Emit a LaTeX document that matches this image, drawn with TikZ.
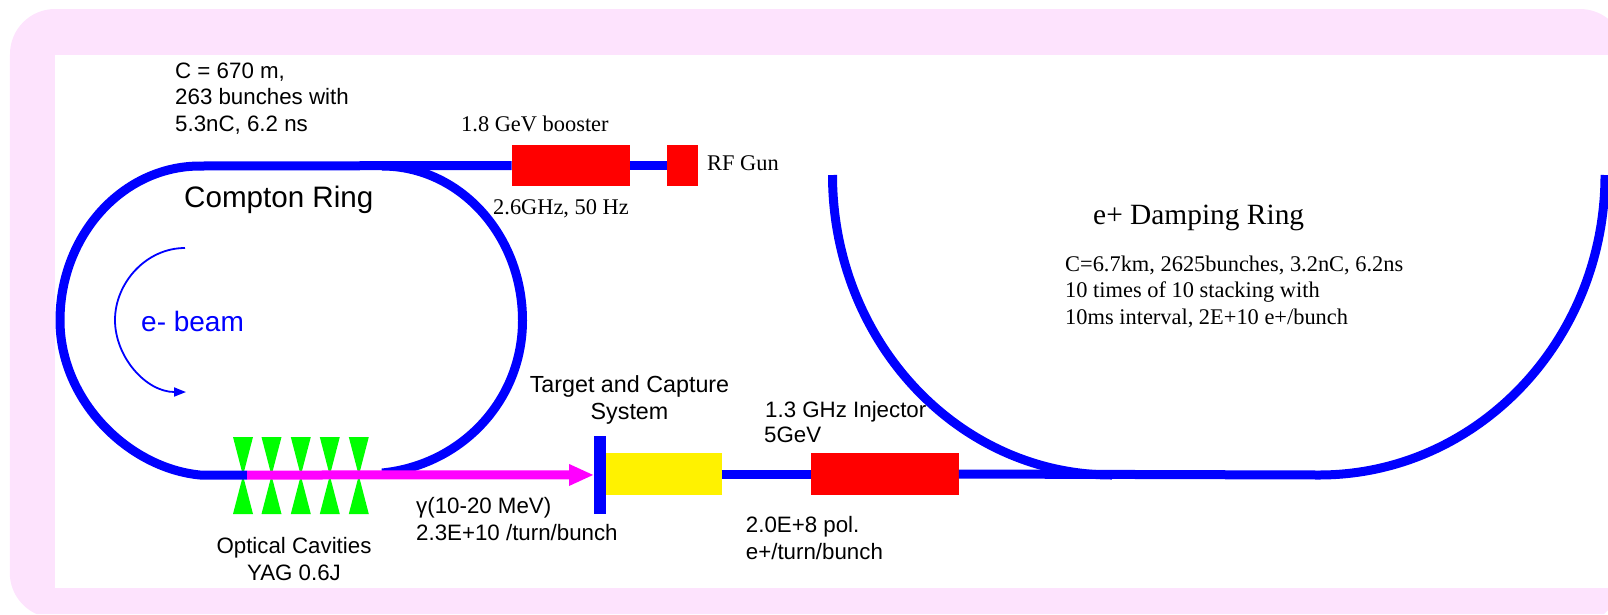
\documentclass[tikz,border=0pt]{standalone}
\usepackage{fontspec}
\setmainfont{Liberation Serif}
\setsansfont{Liberation Sans}
\usetikzlibrary{arrows.meta}
\definecolor{pinkbg}{HTML}{FDE3FD}
\definecolor{beamblue}{HTML}{0000FF}
\definecolor{magbeam}{HTML}{FF00FF}
\definecolor{cavgreen}{HTML}{00FF00}
\tikzset{
  sanslabel/.style={anchor=base west,inner sep=0pt,font=\fontsize{22.3}{22.3}\selectfont\sffamily,text=black},
  seriflabel/.style={anchor=base west,inner sep=0pt,font=\fontsize{22.4}{22.4}\selectfont\rmfamily,text=black},
  beamline/.style={draw=beamblue,line width=9pt,line join=round},
  redbox/.style={fill=red,inner sep=0pt,outer sep=0pt,anchor=north west},
  yellowbox/.style={fill=yellow,inner sep=0pt,outer sep=0pt,anchor=north west},
  bluebar/.style={fill=beamblue,inner sep=0pt,outer sep=0pt,anchor=north west},
  cavity/.style={fill=cavgreen,draw=none},
}
\begin{document}
\begin{tikzpicture}[x=1pt,y=-1pt]
\useasboundingbox (0,0) rectangle (1608,614);
% frame
\fill[pinkbg] (10,54) arc[start angle=180,end angle=270,radius=45] -- (1580,9) arc[start angle=270,end angle=308.5,radius=45] -- (1608,610) -- (1604,614) -- (36.5,614) arc[start angle=114,end angle=180,radius=45] -- cycle;
\fill[white] (55,55) rectangle (1608,588);
% cavities
\foreach \cx in {243,271.5,300.8,329.8,358.8}{
  \fill[cavity] (\cx-10,437) -- (\cx+10,437) -- (\cx,475.5) -- cycle;
  \fill[cavity] (\cx-10,514) -- (\cx+10,514) -- (\cx,475.5) -- cycle;
}
% named points
\coordinate (ringTopL) at (200,166);
\coordinate (ringTopR) at (382,166);
\coordinate (gammaStart) at (247,475);
\coordinate (drR) at (1319,475);
\coordinate (drEndL) at (832.5,175);
\coordinate (ebStart) at (185,248);
\coordinate (ebEnd) at (186,392);
% boxes
\node[redbox,minimum width=118.5pt,minimum height=41pt] (booster) at (511.5,145) {};
\node[redbox,minimum width=31pt,minimum height=41pt] (gun) at (666.7,145) {};
\node[bluebar,minimum width=12pt,minimum height=78.5pt] (target) at (594,435.7) {};
\node[yellowbox,minimum width=115.6pt,minimum height=42pt] (capture) at (606,453) {};
\node[redbox,minimum width=147.4pt,minimum height=42pt] (injector) at (811.4,453) {};
% compton ring
\draw[beamline] (ringTopL) arc[start angle=270,end angle=180,x radius=140,y radius=154.5]
  .. controls (60,400) and (128,468) .. (200,475) -- (gammaStart);
\draw[beamline] (ringTopR) arc[start angle=270,end angle=360,x radius=140.5,y radius=154.5]
  .. controls (522.5,400) and (462,465) .. (382,473);
\draw[beamline] (ringTopL) -- (booster.west);
\draw[beamline] (booster.east) -- (gun.west);
% gamma beam
\draw[draw=magbeam,line width=9pt,-{Triangle[length=25pt,width=20pt,fill=magbeam]}] (gammaStart) -- (target.west);
% linac line
\draw[beamline] (capture.east) -- (injector.west);
\draw[beamline] (injector.east) -- (drR);
% damping ring
\draw[beamline] (drEndL) arc[start angle=180,end angle=90,x radius=279.5,y radius=300];
\draw[beamline] (drR) arc[start angle=90,end angle=0,x radius=286,y radius=300];
% e- beam arrow
\draw[draw=beamblue,line width=1.8pt,-{Triangle[length=12pt,width=9pt]}] (ebStart) .. controls (146,248) and (115,283) .. (115,320) .. controls (115,357) and (146,392) .. (ebEnd);
% labels
\node[sanslabel] (l1) at (175,78) {C = 670 m,};
\node[sanslabel] (l2) at (175,104) {263 bunches with};
\node[sanslabel] (l3) at (175,131) {5.3nC, 6.2 ns};
\node[sanslabel,font=\fontsize{29.6}{30}\selectfont\sffamily] (compton) at (184,207) {Compton Ring};
\node[sanslabel,font=\fontsize{28}{28}\selectfont\sffamily,text=beamblue] (ebeam) at (141,331) {e- beam};
\node[seriflabel] (boostert) at (461,131) {1.8 GeV booster};
\node[seriflabel] (gunt) at (707,170) {RF Gun};
\node[seriflabel] (freq) at (493,214) {2.6GHz, 50 Hz};
\node[sanslabel,anchor=base] (opt1) at (294,553) {Optical Cavities};
\node[sanslabel,anchor=base] (opt2) at (294,580) {YAG 0.6J};
\node[sanslabel] (g1) at (416,513) {γ(10-20 MeV)};
\node[sanslabel] (g2) at (416,540.7) {2.3E+10 /turn/bunch};
\node[sanslabel,anchor=base,font=\fontsize{23.3}{23.3}\selectfont\sffamily] (t1) at (629.5,392.7) {Target and Capture};
\node[sanslabel,anchor=base,font=\fontsize{23.3}{23.3}\selectfont\sffamily] (t2) at (629.5,419) {System};
\node[sanslabel] (i1) at (765,417) {1.3 GHz Injector};
\node[sanslabel] (i2) at (764,442) {5GeV};
\node[sanslabel] (p1) at (745.7,532.7) {2.0E+8 pol.};
\node[sanslabel] (p2) at (745.7,559) {e+/turn/bunch};
\node[seriflabel,font=\fontsize{29.4}{30}\selectfont\rmfamily] (dr) at (1093,224) {e+ Damping Ring};
\node[seriflabel] (d1) at (1065,271) {C=6.7km, 2625bunches, 3.2nC, 6.2ns};
\node[seriflabel] (d2) at (1065,297.7) {10 times of 10 stacking with};
\node[seriflabel] (d3) at (1065,324) {10ms interval, 2E+10 e+/bunch};
\end{tikzpicture}
\end{document}
